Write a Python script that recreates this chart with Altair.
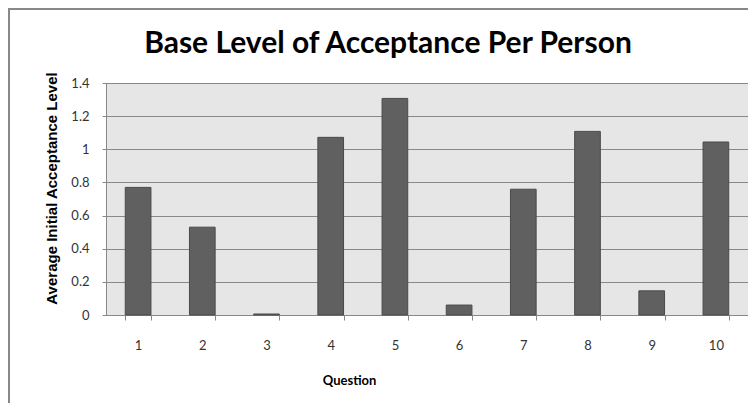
import altair as alt
import pandas as pd

questions = ["1", "2", "3", "4", "5", "6", "7", "8", "9", "10"]
values = [0.77, 0.53, 0.006, 1.072, 1.307, 0.06, 0.759, 1.108, 0.146, 1.044]
y_ticks = [0, 0.2, 0.4, 0.6, 0.8, 1.0, 1.2, 1.4]

df = pd.DataFrame({"Question": questions, "Value": values})

bars = alt.Chart(df).mark_bar(
    color="#606060", stroke="#4a4a4a", strokeWidth=1
).encode(
    x=alt.X("Question:N", sort=questions,
            scale=alt.Scale(paddingInner=0.6, paddingOuter=0.3),
            axis=alt.Axis(title="Question", labelAngle=0, tickBand="extent",
                          labelPadding=19, tickSize=5, titlePadding=22,
                          domainColor="#888888", tickColor="#888888",
                          labelColor="#333333", labelFontSize=13,
                          titleFontSize=13, titleFontWeight="bold",
                          titleColor="#000000", titleX=243, grid=False)),
    y=alt.Y("Value:Q", scale=alt.Scale(domain=[0, 1.4], nice=False),
            axis=alt.Axis(title="Average Initial Acceptance Level", values=y_ticks,
                          format="~g", tickSize=4, labelPadding=13,
                          domainColor="#888888", tickColor="#888888",
                          gridColor="#888888", grid=True,
                          labelColor="#333333", labelFontSize=13,
                          titleFont="Liberation Sans",
                          titleFontSize=15, titleFontWeight="bold",
                          titleColor="#000000", titlePadding=11, titleY=105)),
)

frame = pd.DataFrame({"a": [0]})
top_line = alt.Chart(frame).mark_rule(
    color="#888888", strokeWidth=2, clip=False
).encode(x=alt.value(-98), x2=alt.value(642), y=alt.value(-74))
left_line = alt.Chart(frame).mark_rule(
    color="#888888", strokeWidth=2, clip=False
).encode(x=alt.value(-97), y=alt.value(-75), y2=alt.value(320))

chart = alt.layer(bars, top_line, left_line).properties(
    width=642, height=232,
    title=alt.TitleParams("Base Level of Acceptance Per Person", fontSize=30,
                          font="Lato", fontWeight="bold", color="#000000",
                          anchor="middle", dx=-39, offset=0, dy=52, frame="group"),
    padding={"left": 98, "top": 75, "right": 0, "bottom": 88},
    autosize=alt.AutoSizeParams(type="none"),
).configure(
    font="Lato",
).configure_view(
    fill="#e6e6e6", stroke=None,
)

chart.save("out.html", embed_options={"renderer": "svg", "actions": False})
